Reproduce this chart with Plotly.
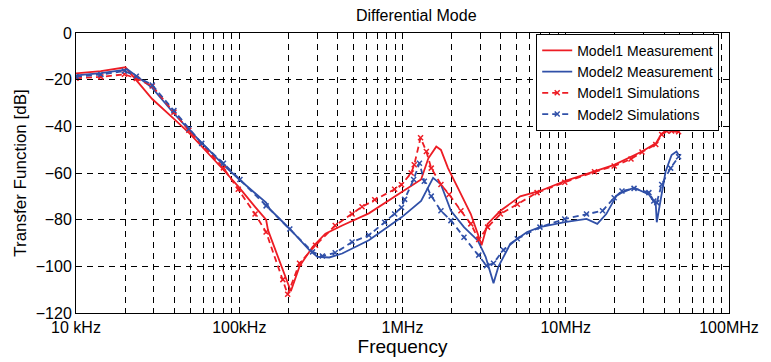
import plotly.graph_objects as go

# ---- data (frequency in Hz, transfer function in dB) ----
m1_meas_f = [1.0e4, 1.42e4, 2.01e4, 2.93e4, 3.98e4, 4.98e4, 8.0e4, 1.0e5, 1.25e5, 1.46e5,
             1.50e5, 1.98e5, 2.07e5, 2.34e5, 2.81e5, 3.37e5, 4.27e5, 6.22e5, 9.86e5, 1.30e6,
             1.44e6, 1.61e6, 1.72e6, 1.90e6, 2.18e6, 2.62e6, 2.89e6, 3.05e6, 3.32e6, 3.98e6,
             5.26e6, 6.95e6, 9.86e6, 1.98e7, 2.93e7, 3.56e7, 3.87e7, 4.15e7, 4.91e7]
m1_meas_db = [-17.3, -16.3, -14.7, -28.3, -36.8, -43.1, -58.6, -66.3, -74.5, -80.0,
              -84.5, -106.5, -110.7, -100.0, -91.7, -86.0, -82.5, -77.3, -68.4, -62.8,
              -53.7, -48.7, -50.1, -57.9, -66.3, -77.6, -86.0, -91.0, -81.8, -76.2,
              -70.0, -67.7, -63.5, -56.5, -50.8, -47.3, -43.1, -41.7, -42.4]

m2_meas_f = [1.0e4, 1.42e4, 2.07e4, 2.93e4, 3.98e4, 4.98e4, 8.0e4, 1.0e5, 1.46e5, 1.54e5,
             2.04e5, 2.69e5, 3.01e5, 3.56e5, 4.27e5, 6.22e5, 9.86e5, 1.30e6, 1.54e6, 1.72e6,
             1.98e6, 2.38e6, 2.89e6, 3.23e6, 3.61e6, 3.87e6, 4.58e6, 5.80e6, 6.95e6, 9.86e6,
             1.34e7, 1.56e7, 1.77e7, 2.04e7, 2.21e7, 2.62e7, 3.23e7, 3.56e7, 3.61e7, 3.82e7,
             4.09e7, 4.45e7, 4.77e7, 4.91e7]
m2_meas_db = [-18.2, -17.2, -15.6, -23.5, -34.5, -41.8, -56.5, -62.8, -72.7, -75.5,
              -84.0, -93.0, -95.9, -96.2, -94.5, -88.8, -79.0, -72.0, -62.1, -64.9,
              -76.2, -83.2, -88.9, -95.9, -107.2, -100.1, -90.3, -85.3, -83.2, -81.1,
              -79.7, -81.8, -77.6, -69.9, -68.4, -66.3, -69.2, -73.4, -81.1, -72.0,
              -59.3, -52.3, -50.8, -52.3]

m1_sim_f = [1.0e4, 1.42e4, 1.98e4, 2.34e4, 2.93e4, 3.98e4, 4.91e4, 8.0e4, 9.86e4, 1.25e5,
            1.46e5, 1.85e5, 1.98e5, 2.34e5, 2.93e5, 3.87e5, 4.91e5, 5.65e5, 6.76e5, 8.95e5,
            9.86e5, 1.13e6, 1.18e6, 1.29e6, 1.40e6, 1.50e6, 1.72e6, 1.93e6, 2.28e6, 2.62e6,
            2.93e6, 3.32e6, 3.98e6, 5.05e6, 6.67e6, 9.86e6, 1.50e7, 1.98e7, 2.51e7, 2.93e7,
            3.56e7, 3.87e7, 4.15e7, 4.45e7, 4.91e7]
m1_sim_db = [-19.4, -18.8, -17.7, -19.5, -22.7, -33.9, -41.7, -57.8, -67.0, -77.6,
             -85.3, -105.7, -112.0, -98.7, -91.0, -82.5, -77.6, -74.5, -71.5, -67.0,
             -65.0, -60.0, -56.5, -44.9, -50.8, -57.9, -64.9, -69.2, -76.2, -81.8,
             -88.5, -83.2, -77.6, -73.4, -68.4, -64.0, -59.5, -57.0, -54.0, -51.0,
             -47.8, -43.5, -42.0, -42.0, -42.3]

m2_sim_f = [1.0e4, 1.42e4, 1.98e4, 2.34e4, 2.93e4, 3.98e4, 4.91e4, 5.89e4, 8.0e4, 1.01e5,
            1.46e5, 2.04e5, 2.81e5, 3.23e5, 3.87e5, 4.91e5, 6.22e5, 7.78e5, 8.95e5, 9.86e5,
            1.03e6, 1.17e6, 1.27e6, 1.36e6, 1.50e6, 1.72e6, 1.98e6, 2.38e6, 2.93e6, 3.27e6,
            3.61e6, 4.15e6, 5.05e6, 6.95e6, 9.86e6, 1.34e7, 1.68e7, 1.98e7, 2.21e7, 2.62e7,
            3.23e7, 3.46e7, 3.61e7, 3.87e7, 4.39e7, 4.91e7]
m2_sim_db = [-18.7, -17.8, -16.3, -18.5, -22.3, -33.2, -41.0, -47.3, -55.8, -62.8,
             -74.1, -84.0, -93.8, -95.6, -94.2, -89.6, -86.7, -81.1, -77.6, -74.8,
             -71.3, -62.8, -55.8, -63.5, -69.9, -76.2, -80.4, -87.5, -95.2, -99.7,
             -98.7, -93.0, -88.2, -83.2, -79.7, -77.6, -76.2, -70.6, -67.7, -66.6,
             -68.4, -72.0, -72.7, -64.9, -57.9, -53.0]

series_names = ["Model1 Measurement", "Model2 Measurement", "Model1 Simulations", "Model2 Simulations"]
x_tickvals = [1e4, 1e5, 1e6, 1e7, 1e8]
x_ticktext = ["10 kHz", "100kHz", "1MHz", "10MHz", "100MHz"]
y_tickvals = [0, -20, -40, -60, -80, -100, -120]

RED = "#ED1C24"
BLUE = "#3050A8"
FONT = "Liberation Sans, Arial, sans-serif"
GRID_DASH = "6px,5px"

minor_vals = [m * 10 ** d for d in range(4, 8) for m in range(2, 10)]

fig = go.Figure()

fig.add_trace(go.Scatter(x=m1_meas_f, y=m1_meas_db, name=series_names[0], mode="lines",
                         line=dict(color=RED, width=1.8)))
fig.add_trace(go.Scatter(x=m2_meas_f, y=m2_meas_db, name=series_names[1], mode="lines",
                         line=dict(color=BLUE, width=1.8)))
fig.add_trace(go.Scatter(x=m1_sim_f, y=m1_sim_db, name=series_names[2], mode="lines+markers",
                         line=dict(color=RED, width=1.8, dash="6px,4px"),
                         marker=dict(symbol="x-thin", size=5, line=dict(color=RED, width=1.5))))
fig.add_trace(go.Scatter(x=m2_sim_f, y=m2_sim_db, name=series_names[3], mode="lines+markers",
                         line=dict(color=BLUE, width=1.8, dash="6px,4px"),
                         marker=dict(symbol="x-thin", size=5, line=dict(color=BLUE, width=1.5))))

# the page body has an 8px margin, so the figure is sized to fit the 771x362 window
fig.update_layout(
    width=763, height=354,
    margin=dict(l=63, r=40, t=25, b=45),
    paper_bgcolor="white", plot_bgcolor="white",
    font=dict(family=FONT, size=16, color="black"),
    title=dict(text="Differential Mode", x=0.535, xanchor="center", y=0.98, yanchor="middle",
               font=dict(size=16)),
    showlegend=True,
    legend=dict(x=0.985, xanchor="right", y=0.997, yanchor="top",
                bgcolor="white", bordercolor="black", borderwidth=1,
                font=dict(size=14), tracegroupgap=0),
)

fig.update_xaxes(
    type="log", range=[4, 8],
    tickmode="array", tickvals=x_tickvals, ticktext=x_ticktext,
    ticks="inside", ticklen=6, tickcolor="black",
    showline=True, linecolor="black", linewidth=1, mirror="ticks",
    showgrid=True, gridcolor="black", gridwidth=1, griddash=GRID_DASH,
    minor=dict(tickmode="array", tickvals=minor_vals, ticks="inside", ticklen=5,
               tickcolor="black", showgrid=True, gridcolor="black", gridwidth=1,
               griddash=GRID_DASH),
    title=dict(text="Frequency", standoff=0),
    zeroline=False,
)
fig.update_yaxes(
    range=[-120, 0], tickvals=y_tickvals,
    ticks="inside", ticklen=6, tickcolor="black",
    showline=True, linecolor="black", linewidth=1, mirror="ticks",
    showgrid=True, gridcolor="black", gridwidth=1, griddash=GRID_DASH,
    title=dict(text="Transfer Function [dB]", standoff=4, font=dict(size=17)),
    zeroline=False,
)

fig.write_html("out.html")
